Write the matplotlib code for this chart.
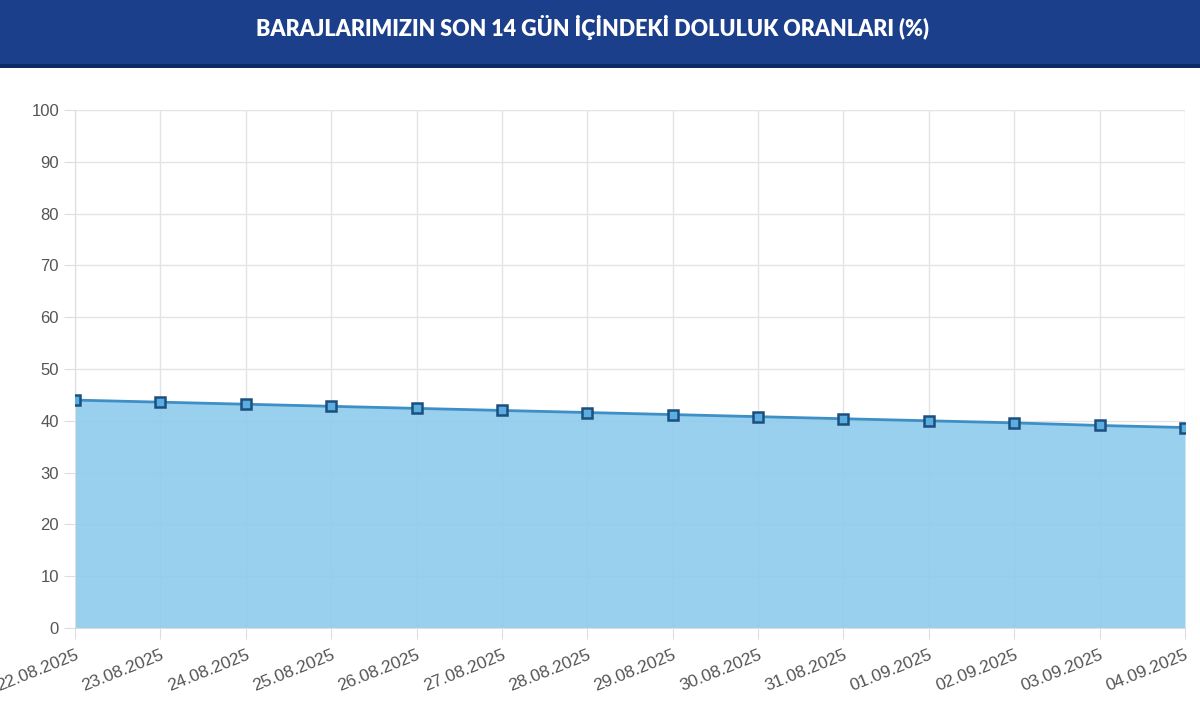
import matplotlib.pyplot as plt
from matplotlib.patches import Rectangle

dates = ["22.08.2025", "23.08.2025", "24.08.2025", "25.08.2025", "26.08.2025",
         "27.08.2025", "28.08.2025", "29.08.2025", "30.08.2025", "31.08.2025",
         "01.09.2025", "02.09.2025", "03.09.2025", "04.09.2025"]
doluluk = [44.0, 43.6, 43.2, 42.8, 42.4, 42.0, 41.6, 41.2, 40.8, 40.4,
           40.0, 39.6, 39.1, 38.7]
yticks = [0, 10, 20, 30, 40, 50, 60, 70, 80, 90, 100]
title = "BARAJLARIMIZIN SON 14 GÜN İÇİNDEKİ DOLULUK ORANLARI (%)"

plt.rcParams['font.family'] = ['Liberation Sans', 'DejaVu Sans']

fig = plt.figure(figsize=(12, 7.16), dpi=100)
fig.patch.set_facecolor("white")

# header band
fig.patches.append(Rectangle((0, 1 - 65 / 716), 1, 65 / 716, transform=fig.transFigure,
                             facecolor="#1b3f8b", edgecolor="none", zorder=0))
fig.patches.append(Rectangle((0, 1 - 68 / 716), 1, 4 / 716, transform=fig.transFigure,
                             facecolor="#0e2a66", edgecolor="none", zorder=0))
fig.text(0.494, 1 - 27 / 716, title, color="white", fontsize=15.5, fontweight="heavy",
         family=["Lato", "DejaVu Sans"], ha="center", va="center")

ax = fig.add_axes([75 / 1200, 1 - 628 / 716, 1110 / 1200, 518 / 716])
x = list(range(len(dates)))
ax.fill_between(x, doluluk, 0, color="#8ecbec", alpha=0.9, linewidth=0, zorder=2)
ax.plot(x, doluluk, color="#3d8fc6", linewidth=2, zorder=3)
ax.plot(x, doluluk, linestyle="none", marker="s", markersize=7,
        markerfacecolor="#5aaee0", markeredgecolor="#1d4f7e", markeredgewidth=1.8, zorder=4)

ax.set_xlim(0, len(dates) - 1)
ax.set_ylim(0, 100)
ax.set_yticks(yticks)
ax.set_xticks(x)
ax.set_xticklabels(dates, rotation=22, ha="right", va="top", rotation_mode="anchor")
ax.tick_params(axis="both", colors="#dddddd", labelcolor="#555555", labelsize=12, length=8)
ax.tick_params(axis="x", pad=6, labelsize=12.5)
ax.grid(True, color="#e4e4e8", linewidth=1, zorder=1)
ax.set_axisbelow(True)
for s in ax.spines.values():
    s.set_visible(False)
ax.spines["left"].set_visible(True)
ax.spines["left"].set_color("#dddddd")
ax.spines["bottom"].set_visible(True)
ax.spines["bottom"].set_color("#dddddd")

fig.savefig("out.png", dpi=100)
